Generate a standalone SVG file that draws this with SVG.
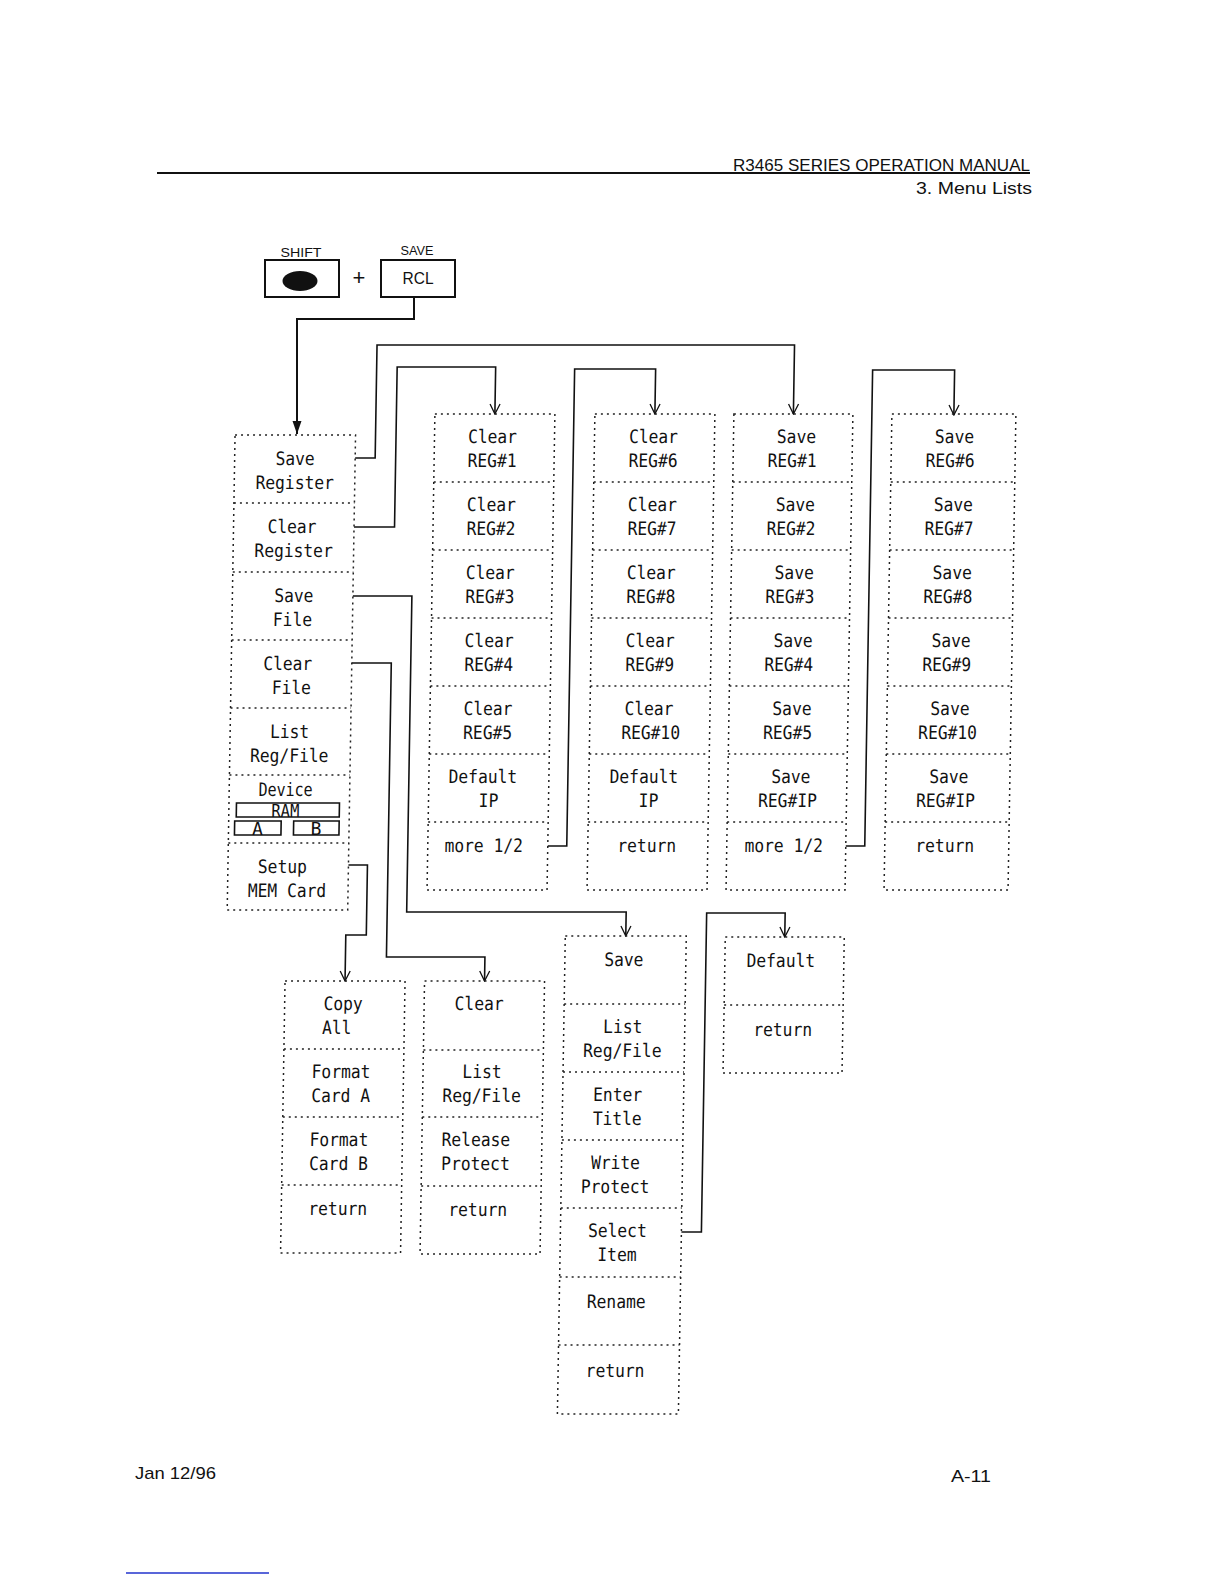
<svg xmlns="http://www.w3.org/2000/svg" width="1224" height="1584" viewBox="0 0 1224 1584">
<style>
.t{font-family:"DejaVu Sans Mono","Liberation Mono",monospace;font-size:18.5px;fill:#111;text-anchor:middle}
.s{font-family:"DejaVu Sans Mono","Liberation Mono",monospace;font-size:18px;fill:#111;text-anchor:middle}
.f{fill:none;stroke:#222;stroke-width:1.5;stroke-dasharray:2 4}
.c{fill:none;stroke:#111;stroke-width:1.6}
.k{fill:none;stroke:#111;stroke-width:2}
.b{fill:none;stroke:#111;stroke-width:1.6}
.h{font-family:"Liberation Sans",Arial,sans-serif;fill:#111}
</style>
<defs>
<marker id="v" markerUnits="userSpaceOnUse" viewBox="-1 -1 12 12" markerWidth="12" markerHeight="12" refX="10" refY="5" orient="auto">
<path d="M0,0 L10,5 L0,10" fill="none" stroke="#111" stroke-width="1.3"/>
</marker>
<marker id="tri" markerUnits="userSpaceOnUse" viewBox="0 0 14 10" markerWidth="14" markerHeight="10" refX="13" refY="5" orient="auto">
<path d="M0,0.5 L13,5 L0,9.5 z" fill="#111"/>
</marker>
</defs>
<rect width="1224" height="1584" fill="#fff"/>

<g id="header">
<line x1="157" y1="173" x2="1030" y2="173" stroke="#111" stroke-width="2"/>
<text class="h" x="1030" y="171" font-size="17" text-anchor="end" textLength="297" lengthAdjust="spacingAndGlyphs">R3465 SERIES OPERATION MANUAL</text>
<text class="h" x="1032" y="194" font-size="17" text-anchor="end" textLength="116" lengthAdjust="spacingAndGlyphs">3. Menu Lists</text>
</g>

<g id="keys">
<g id="key-shift">
<text class="h" x="301" y="257" font-size="13" text-anchor="middle" textLength="41" lengthAdjust="spacingAndGlyphs">SHIFT</text>
<rect class="k" x="265" y="260" width="74" height="37"/>
<ellipse cx="300" cy="281" rx="17.5" ry="10" fill="#111"/>
</g>
<text class="h" x="359" y="285" font-size="22" text-anchor="middle">+</text>
<g id="key-rcl">
<text class="h" x="417" y="255" font-size="13" text-anchor="middle" textLength="33" lengthAdjust="spacingAndGlyphs">SAVE</text>
<rect class="k" x="381" y="260" width="74" height="37"/>
<text class="h" x="418" y="284" font-size="17" text-anchor="middle" textLength="31" lengthAdjust="spacingAndGlyphs">RCL</text>
</g>
<path class="k" d="M414,297 V319 H297 V434" marker-end="url(#tri)"/>
</g>

<g id="diagram" transform="translate(10.72,0) skewX(-0.945)">

<g id="connectors">
<path class="c" d="M352,458 H372 V345 H789.5 V414" marker-end="url(#v)"/>
<path class="c" d="M352,527 H392.5 V367 H491 V414" marker-end="url(#v)"/>
<path class="c" d="M352,596 H411 V912 H630.5 V936" marker-end="url(#v)"/>
<path class="c" d="M352,663 H391.5 V957 H490 V981" marker-end="url(#v)"/>
<path class="c" d="M352,865 H371 V935 H350.5 V981" marker-end="url(#v)"/>
<path class="c" d="M551,846 H570 V369 H651 V414" marker-end="url(#v)"/>
<path class="c" d="M849,846 H868 V370 H950 V415" marker-end="url(#v)"/>
<path class="c" d="M691,1232 H711 V913 H789.5 V937" marker-end="url(#v)"/>
</g>

<g id="menu-main">
<rect class="f" x="231.5" y="435" width="120.5" height="475"/>
<path class="f" d="M231.5,503H352M231.5,572H352M231.5,640H352M231.5,708H352M231.5,775H352M231.5,843H352"/>
<g id="save-register"><text class="t" x="292" y="465" textLength="39.2" lengthAdjust="spacingAndGlyphs">Save</text><text class="t" x="292" y="489" textLength="78.4" lengthAdjust="spacingAndGlyphs">Register</text></g>
<g id="clear-register"><text class="t" x="290" y="533" textLength="49" lengthAdjust="spacingAndGlyphs">Clear</text><text class="t" x="292" y="557" textLength="78.4" lengthAdjust="spacingAndGlyphs">Register</text></g>
<g id="save-file"><text class="t" x="293" y="602" textLength="39.2" lengthAdjust="spacingAndGlyphs">Save</text><text class="t" x="292" y="626" textLength="39.2" lengthAdjust="spacingAndGlyphs">File</text></g>
<g id="clear-file"><text class="t" x="288" y="670" textLength="49" lengthAdjust="spacingAndGlyphs">Clear</text><text class="t" x="292" y="694" textLength="39.2" lengthAdjust="spacingAndGlyphs">File</text></g>
<g id="list-reg-file"><text class="t" x="291" y="738" textLength="39.2" lengthAdjust="spacingAndGlyphs">List</text><text class="t" x="291" y="762" textLength="78.4" lengthAdjust="spacingAndGlyphs">Reg/File</text></g>
<g id="device">
<text class="t" x="288" y="796" textLength="54" lengthAdjust="spacingAndGlyphs">Device</text>
<rect class="b" x="239" y="803" width="103" height="14"/>
<text class="s" x="288" y="817" textLength="28" lengthAdjust="spacingAndGlyphs">RAM</text>
<rect class="b" x="237.5" y="821" width="46.5" height="14"/>
<text class="s" x="260.5" y="835">A</text>
<rect class="b" x="296.5" y="821" width="45.5" height="14"/>
<text class="s" x="319" y="835">B</text>
</g>
<g id="setup-mem-card"><text class="t" x="286" y="873" textLength="49" lengthAdjust="spacingAndGlyphs">Setup</text><text class="t" x="291" y="897" textLength="78.4" lengthAdjust="spacingAndGlyphs">MEM Card</text></g>
</g>

<g id="menu-clear-reg-1">
<rect class="f" x="431" y="414" width="120" height="476"/>
<path class="f" d="M431,482H551M431,550H551M431,618H551M431,686H551M431,754H551M431,822H551"/>
<g id="clear-reg1"><text class="t" x="489" y="443" textLength="49" lengthAdjust="spacingAndGlyphs">Clear</text><text class="t" x="489" y="467" textLength="49" lengthAdjust="spacingAndGlyphs">REG#1</text></g>
<g id="clear-reg2"><text class="t" x="489" y="511" textLength="49" lengthAdjust="spacingAndGlyphs">Clear</text><text class="t" x="489" y="535" textLength="49" lengthAdjust="spacingAndGlyphs">REG#2</text></g>
<g id="clear-reg3"><text class="t" x="489" y="579" textLength="49" lengthAdjust="spacingAndGlyphs">Clear</text><text class="t" x="489" y="603" textLength="49" lengthAdjust="spacingAndGlyphs">REG#3</text></g>
<g id="clear-reg4"><text class="t" x="489" y="647" textLength="49" lengthAdjust="spacingAndGlyphs">Clear</text><text class="t" x="489" y="671" textLength="49" lengthAdjust="spacingAndGlyphs">REG#4</text></g>
<g id="clear-reg5"><text class="t" x="489" y="715" textLength="49" lengthAdjust="spacingAndGlyphs">Clear</text><text class="t" x="489" y="739" textLength="49" lengthAdjust="spacingAndGlyphs">REG#5</text></g>
<g id="clear-default-ip"><text class="t" x="485" y="783" textLength="68.6" lengthAdjust="spacingAndGlyphs">Default</text><text class="t" x="491" y="807" textLength="19.6" lengthAdjust="spacingAndGlyphs">IP</text></g>
<g id="clear-more-1"><text class="t" x="487" y="852" textLength="78.4" lengthAdjust="spacingAndGlyphs">more 1/2</text></g>
</g>

<g id="menu-clear-reg-2">
<rect class="f" x="591" y="414" width="120" height="476"/>
<path class="f" d="M591,482H711M591,550H711M591,618H711M591,686H711M591,754H711M591,822H711"/>
<g id="clear-reg6"><text class="t" x="650" y="443" textLength="49" lengthAdjust="spacingAndGlyphs">Clear</text><text class="t" x="650" y="467" textLength="49" lengthAdjust="spacingAndGlyphs">REG#6</text></g>
<g id="clear-reg7"><text class="t" x="650" y="511" textLength="49" lengthAdjust="spacingAndGlyphs">Clear</text><text class="t" x="650" y="535" textLength="49" lengthAdjust="spacingAndGlyphs">REG#7</text></g>
<g id="clear-reg8"><text class="t" x="650" y="579" textLength="49" lengthAdjust="spacingAndGlyphs">Clear</text><text class="t" x="650" y="603" textLength="49" lengthAdjust="spacingAndGlyphs">REG#8</text></g>
<g id="clear-reg9"><text class="t" x="650" y="647" textLength="49" lengthAdjust="spacingAndGlyphs">Clear</text><text class="t" x="650" y="671" textLength="49" lengthAdjust="spacingAndGlyphs">REG#9</text></g>
<g id="clear-reg10"><text class="t" x="650" y="715" textLength="49" lengthAdjust="spacingAndGlyphs">Clear</text><text class="t" x="652" y="739" textLength="58.8" lengthAdjust="spacingAndGlyphs">REG#10</text></g>
<g id="clear-default-ip-2"><text class="t" x="646" y="783" textLength="68.6" lengthAdjust="spacingAndGlyphs">Default</text><text class="t" x="651" y="807" textLength="19.6" lengthAdjust="spacingAndGlyphs">IP</text></g>
<g id="clear-return"><text class="t" x="650" y="852" textLength="58.8" lengthAdjust="spacingAndGlyphs">return</text></g>
</g>

<g id="menu-save-reg-1">
<rect class="f" x="730" y="414" width="119" height="476"/>
<path class="f" d="M730,482H849M730,550H849M730,618H849M730,686H849M730,754H849M730,822H849"/>
<g id="save-reg1"><text class="t" x="793" y="443" textLength="39.2" lengthAdjust="spacingAndGlyphs">Save</text><text class="t" x="789" y="467" textLength="49" lengthAdjust="spacingAndGlyphs">REG#1</text></g>
<g id="save-reg2"><text class="t" x="793" y="511" textLength="39.2" lengthAdjust="spacingAndGlyphs">Save</text><text class="t" x="789" y="535" textLength="49" lengthAdjust="spacingAndGlyphs">REG#2</text></g>
<g id="save-reg3"><text class="t" x="793" y="579" textLength="39.2" lengthAdjust="spacingAndGlyphs">Save</text><text class="t" x="789" y="603" textLength="49" lengthAdjust="spacingAndGlyphs">REG#3</text></g>
<g id="save-reg4"><text class="t" x="793" y="647" textLength="39.2" lengthAdjust="spacingAndGlyphs">Save</text><text class="t" x="789" y="671" textLength="49" lengthAdjust="spacingAndGlyphs">REG#4</text></g>
<g id="save-reg5"><text class="t" x="793" y="715" textLength="39.2" lengthAdjust="spacingAndGlyphs">Save</text><text class="t" x="789" y="739" textLength="49" lengthAdjust="spacingAndGlyphs">REG#5</text></g>
<g id="save-reg-ip"><text class="t" x="793" y="783" textLength="39.2" lengthAdjust="spacingAndGlyphs">Save</text><text class="t" x="790" y="807" textLength="58.8" lengthAdjust="spacingAndGlyphs">REG#IP</text></g>
<g id="save-more-1"><text class="t" x="787" y="852" textLength="78.4" lengthAdjust="spacingAndGlyphs">more 1/2</text></g>
</g>

<g id="menu-save-reg-2">
<rect class="f" x="888" y="414" width="124" height="476"/>
<path class="f" d="M888,482H1012M888,550H1012M888,618H1012M888,686H1012M888,754H1012M888,822H1012"/>
<g id="save-reg6"><text class="t" x="951" y="443" textLength="39.2" lengthAdjust="spacingAndGlyphs">Save</text><text class="t" x="947" y="467" textLength="49" lengthAdjust="spacingAndGlyphs">REG#6</text></g>
<g id="save-reg7"><text class="t" x="951" y="511" textLength="39.2" lengthAdjust="spacingAndGlyphs">Save</text><text class="t" x="947" y="535" textLength="49" lengthAdjust="spacingAndGlyphs">REG#7</text></g>
<g id="save-reg8"><text class="t" x="951" y="579" textLength="39.2" lengthAdjust="spacingAndGlyphs">Save</text><text class="t" x="947" y="603" textLength="49" lengthAdjust="spacingAndGlyphs">REG#8</text></g>
<g id="save-reg9"><text class="t" x="951" y="647" textLength="39.2" lengthAdjust="spacingAndGlyphs">Save</text><text class="t" x="947" y="671" textLength="49" lengthAdjust="spacingAndGlyphs">REG#9</text></g>
<g id="save-reg10"><text class="t" x="951" y="715" textLength="39.2" lengthAdjust="spacingAndGlyphs">Save</text><text class="t" x="949" y="739" textLength="58.8" lengthAdjust="spacingAndGlyphs">REG#10</text></g>
<g id="save-reg-ip-2"><text class="t" x="951" y="783" textLength="39.2" lengthAdjust="spacingAndGlyphs">Save</text><text class="t" x="948" y="807" textLength="58.8" lengthAdjust="spacingAndGlyphs">REG#IP</text></g>
<g id="save-return"><text class="t" x="948" y="852" textLength="58.8" lengthAdjust="spacingAndGlyphs">return</text></g>
</g>

<g id="menu-setup-mem-card">
<rect class="f" x="290.5" y="981" width="120" height="272"/>
<path class="f" d="M290.5,1049H410.5M290.5,1117H410.5M290.5,1185H410.5"/>
<g id="copy-all"><text class="t" x="349" y="1010" textLength="39.2" lengthAdjust="spacingAndGlyphs">Copy</text><text class="t" x="343" y="1034" textLength="29.4" lengthAdjust="spacingAndGlyphs">All</text></g>
<g id="format-card-a"><text class="t" x="348" y="1078" textLength="58.8" lengthAdjust="spacingAndGlyphs">Format</text><text class="t" x="348" y="1102" textLength="58.8" lengthAdjust="spacingAndGlyphs">Card A</text></g>
<g id="format-card-b"><text class="t" x="347" y="1146" textLength="58.8" lengthAdjust="spacingAndGlyphs">Format</text><text class="t" x="347" y="1170" textLength="58.8" lengthAdjust="spacingAndGlyphs">Card B</text></g>
<g id="card-return"><text class="t" x="347" y="1215" textLength="58.8" lengthAdjust="spacingAndGlyphs">return</text></g>
</g>

<g id="menu-clear-file">
<rect class="f" x="430" y="981" width="120" height="273"/>
<path class="f" d="M430,1050H550M430,1117H550M430,1186H550"/>
<g id="file-clear"><text class="t" x="485" y="1010" textLength="49" lengthAdjust="spacingAndGlyphs">Clear</text></g>
<g id="clear-list-reg-file"><text class="t" x="489" y="1078" textLength="39.2" lengthAdjust="spacingAndGlyphs">List</text><text class="t" x="489" y="1102" textLength="78.4" lengthAdjust="spacingAndGlyphs">Reg/File</text></g>
<g id="release-protect"><text class="t" x="484" y="1146" textLength="68.6" lengthAdjust="spacingAndGlyphs">Release</text><text class="t" x="484" y="1170" textLength="68.6" lengthAdjust="spacingAndGlyphs">Protect</text></g>
<g id="clear-file-return"><text class="t" x="487" y="1216" textLength="58.8" lengthAdjust="spacingAndGlyphs">return</text></g>
</g>

<g id="menu-save-file">
<rect class="f" x="570" y="936" width="121" height="478"/>
<path class="f" d="M570,1004H691M570,1072H691M570,1140H691M570,1208H691M570,1277H691M570,1345H691"/>
<g id="file-save"><text class="t" x="629" y="966" textLength="39.2" lengthAdjust="spacingAndGlyphs">Save</text></g>
<g id="save-list-reg-file"><text class="t" x="629" y="1033" textLength="39.2" lengthAdjust="spacingAndGlyphs">List</text><text class="t" x="629" y="1057" textLength="78.4" lengthAdjust="spacingAndGlyphs">Reg/File</text></g>
<g id="enter-title"><text class="t" x="625" y="1101" textLength="49" lengthAdjust="spacingAndGlyphs">Enter</text><text class="t" x="625" y="1125" textLength="49" lengthAdjust="spacingAndGlyphs">Title</text></g>
<g id="write-protect"><text class="t" x="624" y="1169" textLength="49" lengthAdjust="spacingAndGlyphs">Write</text><text class="t" x="624" y="1193" textLength="68.6" lengthAdjust="spacingAndGlyphs">Protect</text></g>
<g id="select-item"><text class="t" x="627" y="1237" textLength="58.8" lengthAdjust="spacingAndGlyphs">Select</text><text class="t" x="627" y="1261" textLength="39.2" lengthAdjust="spacingAndGlyphs">Item</text></g>
<g id="rename"><text class="t" x="627" y="1308" textLength="58.8" lengthAdjust="spacingAndGlyphs">Rename</text></g>
<g id="file-return"><text class="t" x="627" y="1377" textLength="58.8" lengthAdjust="spacingAndGlyphs">return</text></g>
</g>

<g id="menu-select-item">
<rect class="f" x="730" y="937" width="119" height="136"/>
<path class="f" d="M730,1005H849"/>
<g id="item-default"><text class="t" x="786" y="967" textLength="68.6" lengthAdjust="spacingAndGlyphs">Default</text></g>
<g id="item-return"><text class="t" x="789" y="1036" textLength="58.8" lengthAdjust="spacingAndGlyphs">return</text></g>
</g>

</g>

<g id="footer">
<text class="h" x="135" y="1479" font-size="17" textLength="81" lengthAdjust="spacingAndGlyphs">Jan 12/96</text>
<text class="h" x="951" y="1482" font-size="17" textLength="40" lengthAdjust="spacingAndGlyphs">A-11</text>
<line x1="126" y1="1573" x2="269" y2="1573" stroke="#2233cc" stroke-width="1.5"/>
</g>
</svg>
